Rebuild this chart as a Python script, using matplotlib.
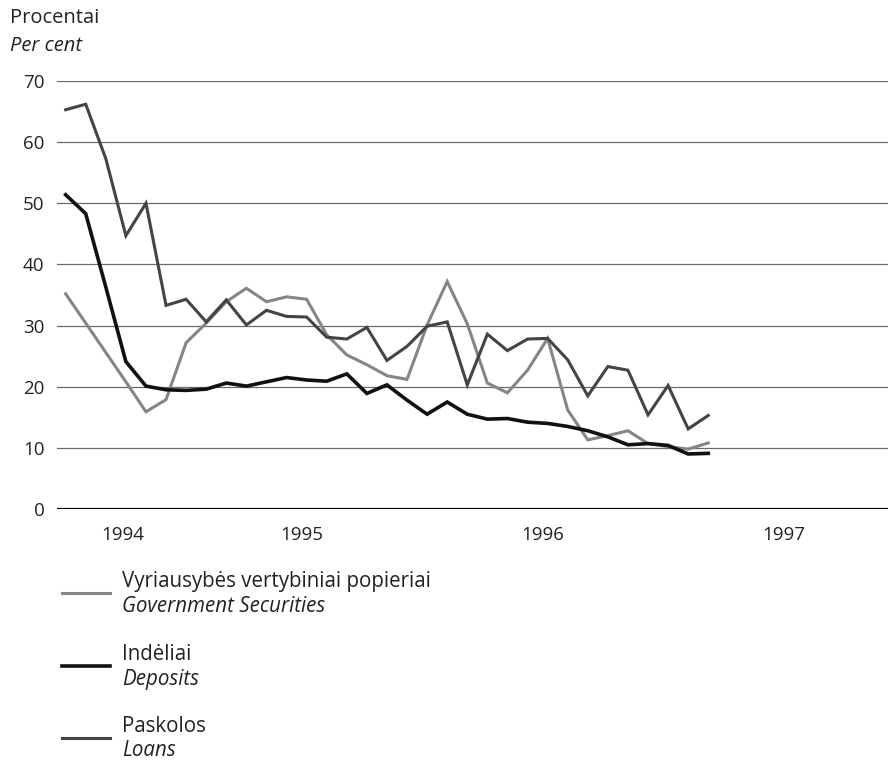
import numpy as np
import matplotlib.pyplot as plt
from matplotlib.lines import Line2D

plt.rcParams['font.family'] = ['Open Sans', 'DejaVu Sans']

# mėnesiniai duomenys, procentais
menesiai = np.arange(33)
vvp = [35.2, 30.4, 25.6, 20.8, 15.9, 17.9, 27.2, 30.4, 33.9, 36.1, 33.9,
       34.7, 34.3, 28.5, 25.2, 23.6, 21.8, 21.2, 30.1, 37.2, 30.3, 20.6,
       19.0, 22.7, 27.9, 16.2, 11.3, 12.0, 12.8, 10.7, 10.2, 9.8, 10.8]
indeliai = [51.4, 48.3, 36.3, 24.1, 20.1, 19.5, 19.4, 19.6, 20.6, 20.1, 20.8,
            21.5, 21.1, 20.9, 22.1, 18.9, 20.3, 17.8, 15.5, 17.5, 15.5, 14.7,
            14.8, 14.2, 14.0, 13.5, 12.8, 11.8, 10.5, 10.7, 10.4, 9.0, 9.1]
paskolos = [65.3, 66.2, 57.3, 44.7, 50.0, 33.3, 34.3, 30.6, 34.2, 30.1, 32.5,
            31.5, 31.4, 28.1, 27.8, 29.7, 24.3, 26.6, 29.9, 30.6, 20.3, 28.6,
            25.9, 27.8, 27.9, 24.4, 18.5, 23.3, 22.7, 15.4, 20.2, 13.1, 15.3]

metai = ['1994', '1995', '1996', '1997']
metu_vietos = [2.85, 11.75, 23.77, 35.77]

serijos = [
    (vvp, dict(color='#858585', lw=2.2), 'Vyriausybės vertybiniai popieriai', 'Government Securities'),
    (indeliai, dict(color='#111111', lw=2.6), 'Indėliai', 'Deposits'),
    (paskolos, dict(color='#444444', lw=2.2), 'Paskolos', 'Loans'),
]

W, H = 888, 760
fig = plt.figure(figsize=(W / 100, H / 100), dpi=100)
ax = fig.add_axes([57 / W, 1 - 509 / H, 1 - 57 / W, (509 - 81) / H])
ax.set_xlim(-0.43, 40.95)
ax.set_ylim(0, 70)
for s in ax.spines.values():
    s.set_visible(False)

ax.set_yticks(range(0, 80, 10))
ax.yaxis.grid(True, color='#6a6a6a', lw=0.9)
ax.axhline(0, color='black', lw=2.3, zorder=3)
ax.set_xticks(metu_vietos)
ax.set_xticklabels(metai)
ax.tick_params(length=0, labelsize=13.5, colors='#222222')
ax.tick_params(axis='y', pad=9)
ax.tick_params(axis='x', pad=12)

for duom, stilius, _, _ in serijos:
    ax.plot(menesiai, duom, solid_joinstyle='miter', zorder=4, **stilius)

fig.text(10 / W, 1 - 18 / H, 'Procentai', fontsize=14.5, va='center', color='#222222')
fig.text(10 / W, 1 - 46 / H, 'Per cent', fontsize=14.5, style='italic', va='center', color='#222222')

# legenda po grafiku
legendos_y = [593, 666, 738]
for (duom, stilius, lt, en), y in zip(serijos, legendos_y):
    fig.add_artist(Line2D([62 / W, 110 / W], [1 - y / H, 1 - y / H], **stilius))
    fig.text(122 / W, 1 - (y - 12) / H, lt, fontsize=14.8, va='center', color='#222222')
    fig.text(122 / W, 1 - (y + 13) / H, en, fontsize=14.8, style='italic', va='center', color='#222222')

fig.savefig('out.png', dpi=100)
